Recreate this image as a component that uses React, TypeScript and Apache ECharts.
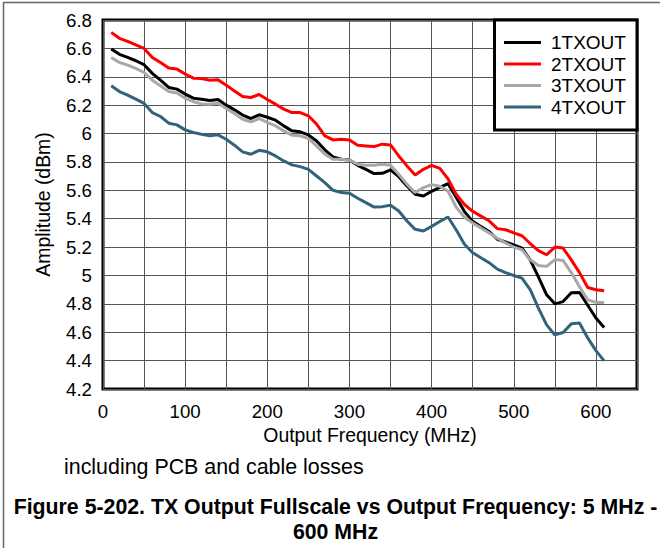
import React, { useEffect, useRef } from "react";
import * as echarts from "echarts";

const freqs = [10,20,30,40,50,60,70,80,90,100,110,120,130,140,150,160,170,180,190,200,210,220,230,240,250,260,270,280,290,300,310,320,330,340,350,360,370,380,390,400,410,420,430,440,450,460,470,480,490,500,510,520,530,540,550,560,570,580,590,600,610];

const tx1 = [6.595,6.558,6.536,6.513,6.485,6.424,6.376,6.325,6.313,6.278,6.249,6.242,6.233,6.240,6.200,6.167,6.130,6.106,6.132,6.115,6.094,6.054,6.019,6.012,5.990,5.948,5.885,5.835,5.819,5.814,5.776,5.748,5.718,5.720,5.744,5.696,5.631,5.572,5.560,5.593,5.620,5.647,5.550,5.450,5.381,5.345,5.310,5.255,5.236,5.215,5.193,5.110,4.990,4.864,4.800,4.816,4.878,4.880,4.790,4.700,4.633];

const tx2 = [6.713,6.671,6.649,6.624,6.600,6.536,6.500,6.461,6.454,6.419,6.390,6.388,6.376,6.379,6.341,6.300,6.261,6.254,6.275,6.240,6.207,6.172,6.148,6.148,6.125,6.066,5.984,5.955,5.960,5.955,5.918,5.913,5.908,5.925,5.920,5.842,5.772,5.708,5.748,5.776,5.755,5.680,5.570,5.500,5.452,5.418,5.385,5.330,5.322,5.300,5.280,5.225,5.175,5.146,5.200,5.193,5.110,5.020,4.915,4.899,4.892];

const tx3 = [6.536,6.501,6.482,6.459,6.430,6.376,6.336,6.296,6.285,6.249,6.224,6.209,6.207,6.214,6.176,6.141,6.101,6.082,6.106,6.078,6.054,6.019,5.988,5.984,5.965,5.913,5.854,5.819,5.819,5.812,5.784,5.776,5.776,5.784,5.776,5.713,5.642,5.584,5.619,5.640,5.628,5.593,5.480,5.410,5.369,5.335,5.300,5.262,5.230,5.200,5.181,5.110,5.070,5.064,5.112,5.106,5.020,4.920,4.828,4.810,4.809];

const tx4 = [6.336,6.296,6.271,6.242,6.212,6.148,6.120,6.073,6.061,6.026,6.007,5.995,5.984,5.991,5.960,5.918,5.871,5.854,5.882,5.871,5.842,5.807,5.779,5.767,5.748,5.701,5.654,5.600,5.584,5.579,5.544,5.513,5.482,5.485,5.494,5.454,5.384,5.325,5.313,5.346,5.380,5.412,5.320,5.220,5.160,5.125,5.090,5.045,5.020,5.000,4.981,4.900,4.770,4.652,4.581,4.598,4.659,4.665,4.560,4.470,4.398];

const seriesNames = ["1TXOUT", "2TXOUT", "3TXOUT", "4TXOUT"];
const seriesValues = [tx1, tx2, tx3, tx4];
const seriesColors = ["#000000", "#ff0000", "#a8a8a8", "#31647a"];

const xTitle = "Output Frequency (MHz)";
const yTitle = "Amplitude (dBm)";
const noteText = "including PCB and cable losses";
const captionLine1 = "Figure 5-202. TX Output Fullscale vs Output Frequency: 5 MHz -";
const captionLine2 = "600 MHz";

const FONT = "'Liberation Sans', Arial, Helvetica, sans-serif";

export default function App() {
  const ref = useRef<HTMLDivElement>(null);

  useEffect(() => {
    if (!ref.current) return;
    const chart = echarts.init(ref.current, null, { renderer: "svg" });
    const option = {
      animation: false,
      backgroundColor: "#ffffff",
      grid: {
        left: 103,
        top: 20,
        right: 23,
        bottom: 159,
        show: true,
        borderColor: "#000000",
        borderWidth: 3,
        backgroundColor: "transparent",
      },
      xAxis: {
        type: "value",
        min: 0,
        max: 650,
        interval: 50,
        axisLine: { show: false },
        axisTick: { show: false },
        splitLine: { show: true, lineStyle: { color: "#555555", width: 1 } },
        axisLabel: {
          margin: 13,
          fontSize: 18.7,
          fontFamily: FONT,
          color: "#000000",
          formatter: (v: number) => (v % 100 === 0 && v <= 600 ? String(v) : ""),
        },
        name: xTitle,
        nameLocation: "middle",
        nameGap: 34,
        nameTextStyle: { fontSize: 19.4, fontFamily: FONT, color: "#000000" },
      },
      yAxis: {
        type: "value",
        min: 4.2,
        max: 6.8,
        interval: 0.2,
        axisLine: { show: false },
        axisTick: { show: false },
        splitLine: { show: true, lineStyle: { color: "#555555", width: 1 } },
        axisLabel: {
          margin: 11,
          fontSize: 18.7,
          fontFamily: FONT,
          color: "#000000",
          formatter: (v: number) => String(Math.round(v * 10) / 10),
        },
        name: yTitle,
        nameLocation: "middle",
        nameGap: 51,
        nameTextStyle: { fontSize: 19.4, fontFamily: FONT, color: "#000000" },
      },
      legend: {
        orient: "vertical",
        left: 504,
        top: 33,
        padding: 0,
        itemWidth: 37,
        itemHeight: 3,
        itemGap: 2.5,
        icon: "rect",
        z: 20,
        data: seriesNames,
        textStyle: {
          fontSize: 19,
          fontFamily: FONT,
          color: "#000000",
          padding: [0, 0, 0, 5],
        },
      },
      graphic: [
        {
          type: "rect",
          z: 15,
          shape: { x: 494.5, y: 20, width: 142.5, height: 110 },
          style: { fill: "#ffffff", stroke: "#000000", lineWidth: 3 },
        },
        {
          type: "line",
          z: 1,
          shape: { x1: 3, y1: 2.5, x2: 660, y2: 2.5 },
          style: { stroke: "#666666", lineWidth: 1.5 },
        },
        {
          type: "line",
          z: 1,
          shape: { x1: 3.5, y1: 2, x2: 3.5, y2: 548 },
          style: { stroke: "#666666", lineWidth: 1.5 },
        },
        {
          type: "text",
          left: 64,
          top: 456,
          style: { text: noteText, fontSize: 21.4, fontFamily: FONT, fill: "#000000" },
        },
        {
          type: "text",
          x: 335.5,
          y: 507,
          style: {
            text: captionLine1,
            fontSize: 21.3,
            fontWeight: "bold",
            fontFamily: FONT,
            fill: "#000000",
            align: "center",
            verticalAlign: "middle",
          },
        },
        {
          type: "text",
          x: 335.5,
          y: 532,
          style: {
            text: captionLine2,
            fontSize: 21.3,
            fontWeight: "bold",
            fontFamily: FONT,
            fill: "#000000",
            align: "center",
            verticalAlign: "middle",
          },
        },
      ],
      series: seriesNames.map((name, i) => ({
        name,
        type: "line",
        symbol: "none",
        smooth: false,
        color: seriesColors[i],
        lineStyle: { width: 3, color: seriesColors[i] },
        data: freqs.map((f, j) => [f, seriesValues[i][j]]),
      })),
    };
    chart.setOption(option as any);
    return () => chart.dispose();
  }, []);

  return (
    <div
      ref={ref}
      style={{ position: "absolute", left: 0, top: 0, width: 660, height: 548, background: "#ffffff" }}
    />
  );
}
